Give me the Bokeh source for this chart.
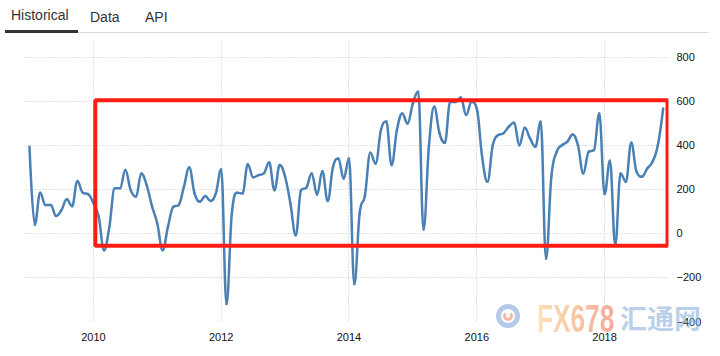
import pandas as pd
from bokeh.plotting import figure
from bokeh.models import FixedTicker, Div, BoxAnnotation, Range1d
from bokeh.layouts import column
from bokeh.embed import file_html
from bokeh.resources import INLINE

# ---------------- data ----------------
months = pd.date_range("2009-01-01", periods=120, freq="MS")
values = [394, 40, 185, 129, 129, 79, 106, 155, 124, 239, 185, 179,
          139, 76, -76, 30, 205, 205, 288, 197, 167, 273, 220, 125,
          45, -76, 30, 121, 129, 212, 300, 182, 144, 170, 148, 182,
          291, -321, 91, 185, 182, 315, 255, 265, 273, 323, 197, 311,
          258, 136, -8, 197, 209, 273, 177, 283, 148, 303, 341, 250,
          341, -230, 91, 174, 367, 318, 470, 509, 311, 470, 545, 500,
          591, 644, 18, 394, 576, 455, 412, 598, 598, 618, 538, 598,
          568, 348, 235, 401, 447, 455, 485, 503, 401, 480, 432, 394,
          508, -114, 258, 371, 401, 417, 450, 401, 273, 371, 379, 545,
          179, 330, -53, 273, 235, 412, 280, 258, 295, 326, 401, 568]
x_ticks = [2010, 2012, 2014, 2016, 2018]
y_ticks = [-400, -200, 0, 200, 400, 600, 800]
tabs = ["Historical", "Data", "API"]
watermark = ["FX678", "汇通网"]
# highlight box (annotation, data units)
box_left, box_right, box_top, box_bottom = 2010.03, 2018.985, 606, -56

xs = [m.year + (m.month - 1) / 12 for m in months]

# spline control points (Highcharts-style smoothing, no false extremes)
n = len(xs)
SMOOTH = 1.5
lc = [(xs[i], values[i]) for i in range(n)]
rc = [(xs[i], values[i]) for i in range(n)]
for i in range(1, n - 1):
    px, py = xs[i], values[i]
    lx, ly = xs[i - 1], values[i - 1]
    nx, ny = xs[i + 1], values[i + 1]
    d = SMOOTH + 1
    lcx, lcy = (SMOOTH * px + lx) / d, (SMOOTH * py + ly) / d
    rcx, rcy = (SMOOTH * px + nx) / d, (SMOOTH * py + ny) / d
    corr = 0.0
    if rcx != lcx:
        corr = (rcy - lcy) * (rcx - px) / (rcx - lcx) + py - rcy
    lcy += corr
    rcy += corr
    if lcy > ly and lcy > py:
        lcy = max(ly, py); rcy = 2 * py - lcy
    elif lcy < ly and lcy < py:
        lcy = min(ly, py); rcy = 2 * py - lcy
    if rcy > ny and rcy > py:
        rcy = max(ny, py); lcy = 2 * py - rcy
    elif rcy < ny and rcy < py:
        rcy = min(ny, py); lcy = 2 * py - rcy
    lc[i] = (lcx, lcy)
    rc[i] = (rcx, rcy)

seg = dict(x0=xs[:-1], y0=values[:-1], x1=xs[1:], y1=values[1:],
           cx0=[rc[i][0] for i in range(n - 1)], cy0=[rc[i][1] for i in range(n - 1)],
           cx1=[lc[i][0] for i in range(1, n)], cy1=[lc[i][1] for i in range(1, n)])

# ---------------- figure ----------------
p = figure(width=704, height=308, output_backend="svg", toolbar_location=None,
           x_range=Range1d(2008.922, 2019.0), y_range=Range1d(-400, 877),
           y_axis_location="right",
           min_border_left=24, min_border_right=32, min_border_top=0,
           min_border_bottom=27)
p.outline_line_color = None
p.background_fill_color = "white"
p.border_fill_color = "white"

p.xaxis.ticker = FixedTicker(ticks=x_ticks)
p.yaxis.ticker = FixedTicker(ticks=y_ticks)
for ax in (p.xaxis, p.yaxis):
    ax.axis_line_color = None
    ax.major_tick_line_color = None
    ax.minor_tick_line_color = None
    ax.major_label_text_font = "Liberation Sans"
    ax.major_label_text_font_size = "11px"
    ax.major_label_text_color = "#111111"
p.xaxis.major_label_standoff = 5
p.yaxis.major_label_standoff = 2

p.grid.grid_line_color = "#c4c4c4"
p.grid.grid_line_dash = "1 2"
p.grid.grid_line_width = 1

p.bezier(line_color="#4a80b4", line_width=2.5, line_cap="round", **seg)

p.add_layout(BoxAnnotation(left=box_left, right=box_right, top=box_top, bottom=box_bottom,
                           fill_alpha=0, line_color="#fb1c12", line_alpha=1.0,
                           line_width=4, level="overlay"))

# ---------------- tabs ----------------
html = (
    '<div style="position:relative;width:704px;height:30px;font-family:\'Liberation Sans\';'
    'font-size:14px;color:#333;">'
    f'<span style="position:absolute;left:6px;top:0px;white-space:nowrap;">{tabs[0]}</span>'
    f'<span style="position:absolute;left:85px;top:2px;white-space:nowrap;">{tabs[1]}</span>'
    f'<span style="position:absolute;left:140px;top:2px;white-space:nowrap;">{tabs[2]}</span>'
    '<div style="position:absolute;left:0px;top:25px;width:73px;height:3px;background:#333;"></div>'
    '<div style="position:absolute;left:73px;top:27px;width:631px;height:1px;background:#dddddd;"></div>'
    '</div>'
)
div = Div(text=html, width=704, height=30)

# ---------------- watermark overlay ----------------
wm_html = (
    '<div style="position:relative;width:704px;height:48px;pointer-events:none;">'
    '<div style="position:absolute;left:491px;top:4px;width:24px;height:24px;border-radius:50%;'
    'border:5px solid rgba(150,180,222,0.7);"></div>'
    '<div style="position:absolute;left:498px;top:11px;width:10px;height:10px;border-radius:50%;'
    'border:3px solid rgba(244,160,130,0.75);border-top-color:transparent;"></div>'
    '<span style="position:absolute;left:532px;top:0px;font-family:\'Liberation Sans\';font-weight:bold;'
    'font-size:38px;line-height:38px;white-space:nowrap;transform:scaleX(0.69);transform-origin:left top;'
    'background:linear-gradient(90deg,#fcd9a0,#f8b483,#f38c7b);-webkit-background-clip:text;'
    'background-clip:text;color:transparent;opacity:0.75;">' + watermark[0] + '</span>'
    '<span style="position:absolute;left:615px;top:4px;font-family:\'Noto Sans CJK SC\';font-weight:bold;'
    'font-size:27px;line-height:27px;white-space:nowrap;color:rgba(140,175,220,0.6);">'
    + watermark[1] + '</span>'
    '</div>'
)
wm = Div(text=wm_html, width=704, height=48, styles={"margin-top": "-48px", "z-index": "5"})

layout = column(div, p, wm, spacing=0)
open("out.html", "w").write(file_html(layout, INLINE))
